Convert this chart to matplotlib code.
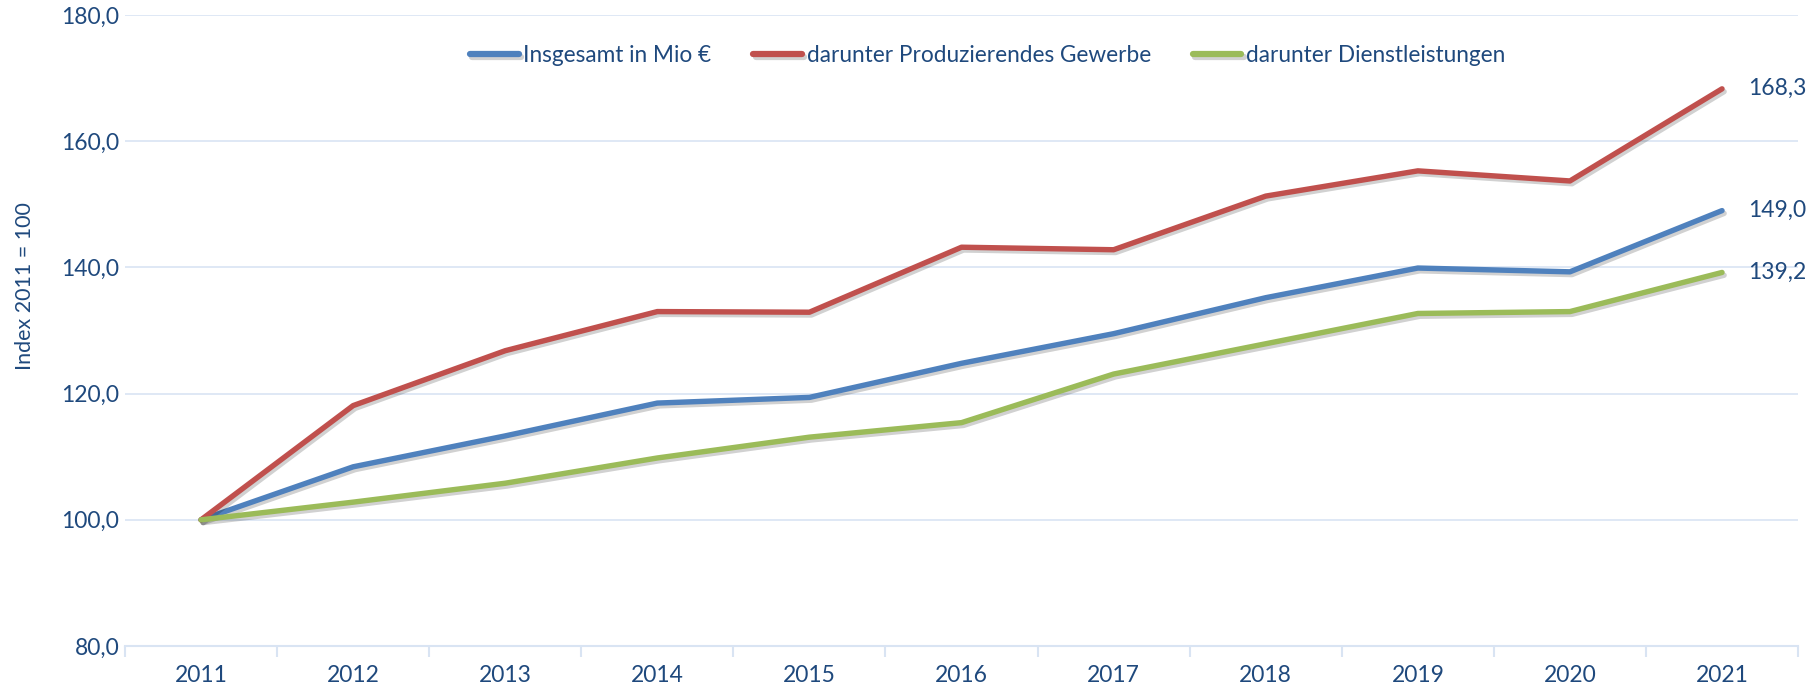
import matplotlib
matplotlib.use("Agg")
import matplotlib.pyplot as plt
import matplotlib.patheffects as pe
from matplotlib.ticker import FixedLocator, FuncFormatter

years = ["2011", "2012", "2013", "2014", "2015", "2016", "2017", "2018", "2019", "2020", "2021"]
insgesamt = [100.0, 108.4, 113.3, 118.5, 119.4, 124.8, 129.5, 135.2, 139.9, 139.3, 149.0]
produzierend = [100.0, 118.1, 126.8, 133.0, 132.9, 143.2, 142.8, 151.3, 155.3, 153.7, 168.3]
dienst = [100.0, 102.8, 105.8, 109.8, 113.1, 115.4, 123.1, 127.9, 132.7, 133.0, 139.2]
series_names = ["Insgesamt in Mio €", "darunter Produzierendes Gewerbe", "darunter Dienstleistungen"]
colors = ["#4F81BD", "#C0504D", "#9BBB59"]
yticks = [80, 100, 120, 140, 160, 180]

TEXT = "#1F497D"
GRID = "#D9E4F3"
FS = 16.5

plt.rcParams['font.family'] = ['Lato', 'DejaVu Sans']

fig = plt.figure(figsize=(18.19, 6.88), dpi=100)
ax = fig.add_axes([0.0687, 0.061, 0.9198, 0.9172])

x = list(range(len(years)))
shadow = [pe.SimpleLineShadow(offset=(1.5, -2), alpha=0.18, shadow_color="black"), pe.Normal()]
handles = []
for vals, name, c in zip([insgesamt, produzierend, dienst], series_names, colors):
    h, = ax.plot(x, vals, color=c, lw=3.9, solid_capstyle="round", solid_joinstyle="round",
                 label=name, path_effects=shadow, zorder=3)
    handles.append(h)
    ax.annotate(f"{vals[-1]:.1f}".replace(".", ","), xy=(x[-1], vals[-1]), xytext=(19, 0),
                textcoords="offset points", fontsize=FS, color=TEXT, va="center", ha="left",
                xycoords="data", annotation_clip=False)

ax.set_xlim(-0.5, len(years) - 0.5)
ax.set_ylim(80, 180)
ax.yaxis.set_major_locator(FixedLocator(yticks))
ax.yaxis.set_major_formatter(FuncFormatter(lambda v, p: f"{v:.1f}".replace(".", ",")))
ax.tick_params(axis="y", length=0, labelsize=FS, labelcolor=TEXT, pad=4)

ax.set_xticks([i - 0.5 for i in range(len(years) + 1)])
ax.set_xticklabels([])
ax.set_xticks(x, minor=True)
ax.set_xticklabels(years, minor=True)
ax.tick_params(axis="x", which="major", length=8, color=GRID, width=1.5)
ax.tick_params(axis="x", which="minor", length=0, labelsize=FS, labelcolor=TEXT, pad=14)

ax.grid(axis="y", color=GRID, lw=1.2)
ax.set_axisbelow(True)
for s in ["top", "right", "left"]:
    ax.spines[s].set_visible(False)
ax.spines["bottom"].set_color(GRID)
ax.spines["bottom"].set_linewidth(1.5)

fig.text(25 / 1819, 1 - 286 / 688, "Index 2011 = 100", rotation=90, fontsize=15.5, color=TEXT,
         ha="center", va="center")

leg = fig.legend(handles=handles, loc="center", bbox_to_anchor=(0.543, 0.919), ncol=3, frameon=False,
                 fontsize=16.3, handlelength=2.15, handletextpad=0.2, columnspacing=1.85,
                 borderpad=0, borderaxespad=0)
for t in leg.get_texts():
    t.set_color(TEXT)
for lh in leg.get_lines():
    lh.set_linewidth(4.5)
    lh.set_solid_capstyle("round")

fig.savefig("out.png", dpi=100)
